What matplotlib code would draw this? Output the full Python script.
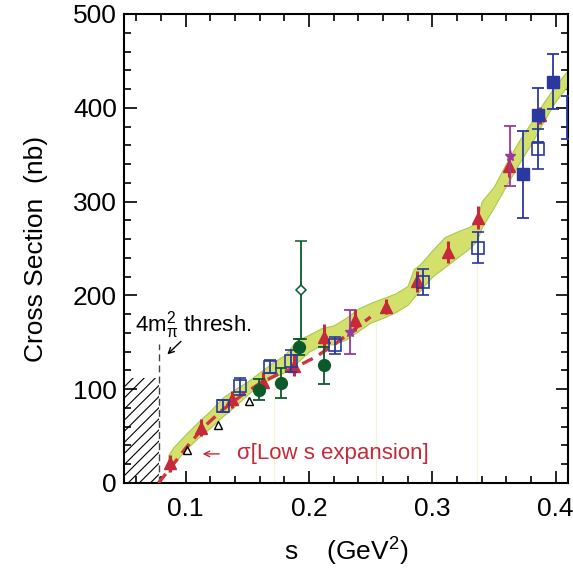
"""Cross section vs s near threshold, with low-s expansion band."""
import matplotlib
matplotlib.use("Agg")
import matplotlib.pyplot as plt
from matplotlib.ticker import MultipleLocator

plt.rcParams["font.family"] = ["Liberation Sans", "DejaVu Sans"]
plt.rcParams["mathtext.default"] = "regular"
plt.rcParams["hatch.linewidth"] = 0.8

# band (low-s expansion uncertainty)
BAND_S = [0.086, 0.09, 0.10, 0.11, 0.12, 0.13, 0.14, 0.15, 0.16, 0.17, 0.18, 0.19,
          0.20, 0.21, 0.22, 0.23, 0.24, 0.25, 0.26, 0.27, 0.28, 0.285, 0.29, 0.30,
          0.31, 0.32, 0.33, 0.336, 0.34, 0.35, 0.36, 0.37, 0.38, 0.39, 0.40, 0.41]
BAND_HI = [30, 38, 52, 65, 77, 91, 100, 108, 118, 128, 136, 152,
           158, 165, 168, 176, 186, 192, 197, 202, 210, 228, 233, 248,
           262, 268, 273, 278, 300, 316, 341, 364, 384, 405, 424, 440]
BAND_LO = [12, 20, 36, 48, 59, 71, 82, 94, 105, 112, 118, 128,
           140, 147, 148, 153, 162, 171, 176, 182, 190, 198, 205, 220,
           230, 240, 250, 258, 272, 294, 317, 340, 361, 385, 407, 424]

# faint guide lines
GUIDE_S = [0.1716, 0.2545, 0.3366]
GUIDE_TOP = [112, 174, 258]

# low s expansion curve
LOW_S = [0.078, 0.09, 0.10, 0.115, 0.13, 0.145, 0.16, 0.175, 0.19, 0.205, 0.22, 0.235, 0.25]
LOW_SIG = [0, 20, 37, 60, 78, 93, 106, 116, 124, 134, 147, 162, 177]

# red triangles
TRI_S = [0.0875, 0.1125, 0.1375, 0.1625, 0.1875, 0.2125, 0.2375, 0.2625,
         0.2875, 0.3125, 0.3375, 0.3625, 0.3875]
TRI_SIG = [21, 59, 89, 108, 125, 156, 174, 188, 215, 246, 283, 338, 392]
TRI_ERR = [9, 9, 9, 10, 11, 14, 12, 8, 11, 12, 12, 12, 9]

# blue open squares
OSQ_S = [0.130, 0.144, 0.1686, 0.1852, 0.2212, 0.2924, 0.337, 0.3854]
OSQ_SIG = [82, 103, 124, 130, 147, 214, 251, 356]
OSQ_ERR = [6, 9, 7, 12, 9, 14, 17, 21]

# blue filled squares
FSQ_S = [0.3735, 0.3855, 0.398]
FSQ_SIG = [329, 392, 428]
FSQ_ERR = [46, 29, 29]

# blue bar at right edge
EDGE_S = [0.4095]
EDGE_SIG = [390]
EDGE_ERR = [23]

# green circles
GC_S = [0.1596, 0.177, 0.192, 0.212]
GC_SIG = [99.5, 106.6, 145, 125.5]
GC_ERR = [11, 16, 9, 20]

# green open diamond
GD_S = [0.1935]
GD_SIG = [206]
GD_ERR = [52]

# black open triangles
OT_S = [0.101, 0.126, 0.1515, 0.177]
OT_SIG = [35, 62, 87, 107]

# purple stars
ST_S = [0.2336, 0.3634]
ST_SIG = [161, 349]
ST_ERR = [23, 32]

THRESH = 0.078
RED = "#c42a3a"
BLUE = "#2a38a0"
GREEN = "#0b5a2c"
PURPLE = "#9a3a9c"

fig = plt.figure(figsize=(5.73, 5.78), dpi=100)
ax = fig.add_axes([0.2164, 0.1644, 0.7746, 0.8114])

# hatched forbidden region below threshold
ax.fill_between([0.05, THRESH], [0, 0], [112, 112], facecolor="none",
                edgecolor="black", hatch="///", linewidth=0, zorder=1)
ax.plot([THRESH, THRESH], [0, 148], color="#444444", lw=1.0,
        dashes=(5, 3), zorder=2)

ax.fill_between(BAND_S, BAND_LO, BAND_HI, facecolor="#d3e16c",
                edgecolor="#a9c94c", linewidth=0.8, zorder=2)
for s, top in zip(GUIDE_S, GUIDE_TOP):
    ax.plot([s, s], [0, top], color="#f2f4d8", lw=0.9, zorder=1)

ax.plot(LOW_S, LOW_SIG, color="#d0343e", lw=2.4, dashes=(3.5, 2.2), zorder=3)

ax.errorbar(TRI_S, TRI_SIG, yerr=TRI_ERR, fmt="^", color=RED, ms=8,
            elinewidth=2.2, capsize=0, zorder=5)
ax.errorbar(OSQ_S, OSQ_SIG, yerr=OSQ_ERR, fmt="s", color=BLUE, mfc="none",
            ms=9, mew=1.2, elinewidth=1.3, capsize=4.5, capthick=1.3, zorder=6)
ax.errorbar(FSQ_S, FSQ_SIG, yerr=FSQ_ERR, fmt="s", color=BLUE, ms=9,
            elinewidth=1.3, capsize=4.5, capthick=1.3, zorder=6)
ax.errorbar(EDGE_S, EDGE_SIG, yerr=EDGE_ERR, fmt="none", ecolor=BLUE,
            elinewidth=1.3, capsize=4.5, capthick=1.3, zorder=6)
ax.errorbar(GC_S, GC_SIG, yerr=GC_ERR, fmt="o", color=GREEN, ms=8.5,
            elinewidth=1.3, capsize=4.5, capthick=1.3, zorder=6)
ax.errorbar(GD_S, GD_SIG, yerr=GD_ERR, fmt="D", color=GREEN, mfc="white",
            ms=5, mew=1.1, elinewidth=1.3, capsize=4.5, capthick=1.3, zorder=5)
ax.plot(OT_S, OT_SIG, "^", color="black", mfc="none", ms=6, mew=1.0, zorder=6)
ax.errorbar(ST_S, ST_SIG, yerr=ST_ERR, fmt="*", color=PURPLE, ms=8,
            elinewidth=1.3, capsize=4.5, capthick=1.3, zorder=7)

ax.text(0.0593, 168, r"4m$_\pi^2$ thresh.", fontsize=16, va="center", ha="left")
ax.annotate("", xy=(0.0835, 135), xytext=(0.0978, 153),
            arrowprops=dict(arrowstyle="->", color="black", lw=1.0))
ax.annotate("", xy=(0.1115, 31), xytext=(0.1295, 31),
            arrowprops=dict(arrowstyle="->", color=RED, lw=1.0))
ax.text(0.1415, 31, "\u03c3[Low s expansion]", color=RED,
        fontsize=16, va="center", ha="left")

ax.set_xlim(0.05, 0.41)
ax.set_ylim(0, 500)
ax.xaxis.set_major_locator(MultipleLocator(0.1))
ax.xaxis.set_minor_locator(MultipleLocator(0.02))
ax.yaxis.set_major_locator(MultipleLocator(100))
ax.yaxis.set_minor_locator(MultipleLocator(20))
ax.set_xticks([0.1, 0.2, 0.3, 0.4])
ax.set_xticklabels(["0.1", "0.2", "0.3", "0.4"])
ax.tick_params(which="both", direction="in", top=True, right=True,
               labelsize=19, width=1.2)
ax.tick_params(axis="x", which="major", length=9, pad=10)
ax.tick_params(axis="y", which="major", length=9, pad=5)
ax.tick_params(which="minor", length=5)
for sp in ax.spines.values():
    sp.set_linewidth(1.5)

ax.set_xlabel(r"s    (GeV$^2$)", fontsize=19, labelpad=11)
ax.set_ylabel("Cross Section  (nb)", fontsize=19, labelpad=18)

fig.savefig("out.png", dpi=100)
